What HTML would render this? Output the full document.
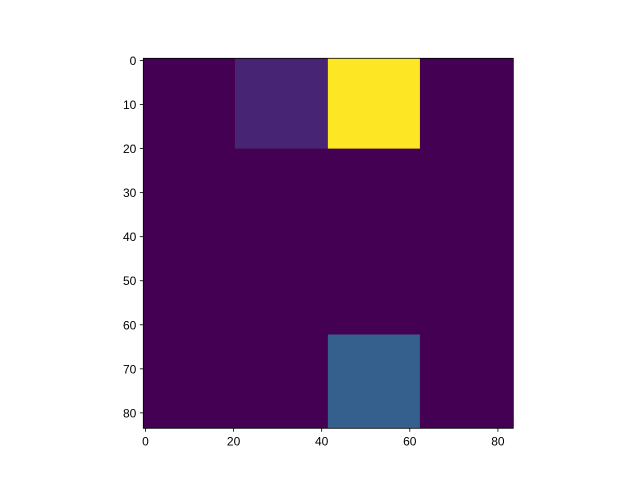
<!DOCTYPE html>
<html><head><meta charset="utf-8"><style>
html,body{margin:0;padding:0;background:#fff;}
svg text{font-family:"Liberation Sans","DejaVu Sans",sans-serif;font-size:12px;fill:#000;}
</style></head><body>
<svg id="chart" width="640" height="480" viewBox="0 0 640 480">
<rect width="640" height="480" fill="#fff"/>
<g id="cells"></g>
<g id="axes"></g>
</svg>
<script>
var gridSize = 84;
// block edges in data coordinates
var blockTop    = [-0.5, -0.5, 62.2];
var blockBottom = [20.0, 20.0, 83.5];
var blockLeft   = [20.3, 41.4, 41.4];
var blockRight  = [41.4, 62.3, 62.3];
var blockValues = [0.1, 1, 0.3];
var backgroundValue = 0;
var blockNames = ['block-purple','block-yellow','block-blue'];
var xTicks = [0, 20, 40, 60, 80];
var yTicks = [0, 10, 20, 30, 40, 50, 60, 70, 80];

var L = 143.3, T = 58.3, S = 370;
var sc = S / gridSize;
function xs(v){ return L + (v + 0.5) * sc; }
function ys(v){ return T + (v + 0.5) * sc; }
var stops = [[68,1,84],[72,40,120],[62,74,137],[49,104,142],[38,130,142],[31,158,137],[53,183,121],[109,205,89],[180,222,44],[253,231,37]];
function viridis(t){
  t = Math.max(0, Math.min(1, t));
  var p = t * (stops.length - 1), i = Math.min(Math.floor(p), stops.length - 2), f = p - i;
  var c = stops[i].map(function(a, k){ return Math.round(a + (stops[i+1][k] - a) * f); });
  return 'rgb(' + c.join(',') + ')';
}
var NS = 'http://www.w3.org/2000/svg';
var cells = document.getElementById('cells');
var vmin = Math.min(backgroundValue, Math.min.apply(null, blockValues));
var vmax = Math.max(backgroundValue, Math.max.apply(null, blockValues));
var base = document.createElementNS(NS, 'rect');
base.setAttribute('x', xs(-0.5)); base.setAttribute('y', ys(-0.5));
base.setAttribute('width', S); base.setAttribute('height', S);
base.setAttribute('fill', viridis((backgroundValue - vmin) / (vmax - vmin)));


cells.appendChild(base);
for (var b = 0; b < blockValues.length; b++) {
  var r = document.createElementNS(NS, 'rect');
  var x0 = xs(blockLeft[b]), x1 = xs(blockRight[b]);
  var y0 = ys(blockTop[b]), y1 = ys(blockBottom[b]);
  r.setAttribute('x', x0); r.setAttribute('y', y0);
  r.setAttribute('width', x1 - x0); r.setAttribute('height', y1 - y0);
  r.setAttribute('fill', viridis((blockValues[b] - vmin) / (vmax - vmin)));
  
  
  cells.appendChild(r);
}
var axes = document.getElementById('axes');
var frame = document.createElementNS(NS, 'rect');
frame.setAttribute('x', L); frame.setAttribute('y', T);
frame.setAttribute('width', S); frame.setAttribute('height', S);
frame.setAttribute('fill', 'none'); frame.setAttribute('stroke', '#000'); frame.setAttribute('stroke-width', '0.8');


axes.appendChild(frame);
xTicks.forEach(function(t){
  var x = xs(t);
  var l = document.createElementNS(NS, 'line');
  l.setAttribute('x1', x); l.setAttribute('x2', x); l.setAttribute('y1', T + S); l.setAttribute('y2', T + S + 3.5);
  l.setAttribute('stroke', '#000'); l.setAttribute('stroke-width', '0.8');
  
  
  axes.appendChild(l);
  var tx = document.createElementNS(NS, 'text');
  tx.setAttribute('x', x); tx.setAttribute('y', T + S + 17); tx.setAttribute('text-anchor', 'middle');
  tx.textContent = t;
  
  
  axes.appendChild(tx);
});
yTicks.forEach(function(t){
  var y = ys(t);
  var l = document.createElementNS(NS, 'line');
  l.setAttribute('x1', L - 3.5); l.setAttribute('x2', L); l.setAttribute('y1', y); l.setAttribute('y2', y);
  l.setAttribute('stroke', '#000'); l.setAttribute('stroke-width', '0.8');
  
  
  axes.appendChild(l);
  var tx = document.createElementNS(NS, 'text');
  tx.setAttribute('x', L - 7); tx.setAttribute('y', y + 4.5); tx.setAttribute('text-anchor', 'end');
  tx.textContent = t;
  
  
  axes.appendChild(tx);
});
</script>
</body></html>
